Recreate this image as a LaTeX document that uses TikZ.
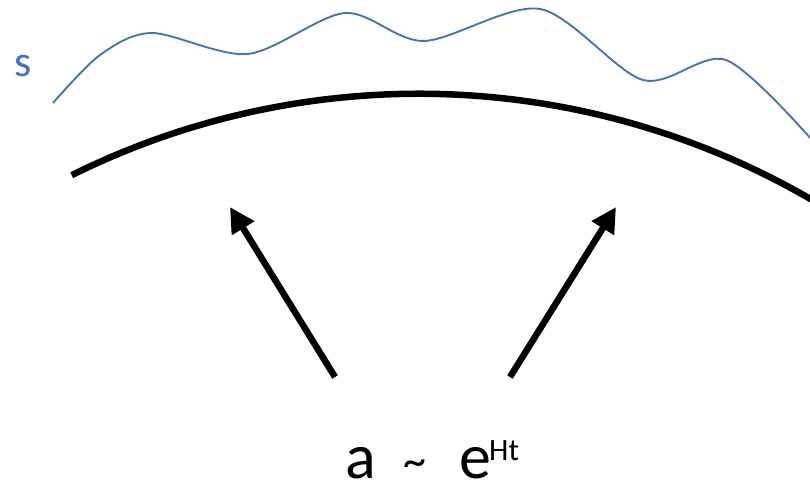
\documentclass[tikz,border=0pt]{standalone}
\usepackage{fontspec}
\setmainfont{Carlito}
\usetikzlibrary{arrows.meta}
\definecolor{wave}{RGB}{68,114,196}
\tikzset{
  horizon/.style={line width=6.5pt},
  ray/.style={line width=6.5pt,-{Triangle[length=25pt,width=25pt]}},
  wavy/.style={wave,line width=1.9pt},
  bigtext/.style={inner sep=0pt,anchor=base west,font=\fontsize{64}{64}\selectfont},
}
\begin{document}
\begin{tikzpicture}[x=1pt,y=-1pt]
\useasboundingbox (0,0) rectangle (810,486);
% blue wave
\draw[wavy] plot[smooth,tension=0.5] coordinates {(53,103) (100,55) (152,33) (248,54) (345,13) (424,41) (540,9) (643,80) (726,60) (812,140)};
\node[inner sep=0pt,text=wave,font=\fontsize{44}{44}\selectfont,anchor=base west] (slabel) at (14,77) {s};
% black arc (part of a circle)
\draw[horizon] plot[domain=116.4:59.5,samples=80,variable=\t] ({418.9+780.9*cos(\t)},{874.6-780.9*sin(\t)});
% arrows
\coordinate (l0) at (335,377);
\coordinate (l1) at (230,207);
\coordinate (r0) at (510,377);
\coordinate (r1) at (616,207);
\draw[ray] (l0) -- (l1);
\draw[ray] (r0) -- (r1);
% formula
\node[bigtext] (avar) at (345,478) {a};
\node[inner sep=0pt,anchor=base west,font=\fontsize{46}{46}\selectfont] (tilde) at (403,476) {\textasciitilde};
\node[bigtext] (evar) at (459,478) {e};
\node[inner sep=0pt,anchor=base west,font=\fontsize{31}{31}\selectfont] (sup) at (489,460) {Ht};
\end{tikzpicture}
\end{document}
